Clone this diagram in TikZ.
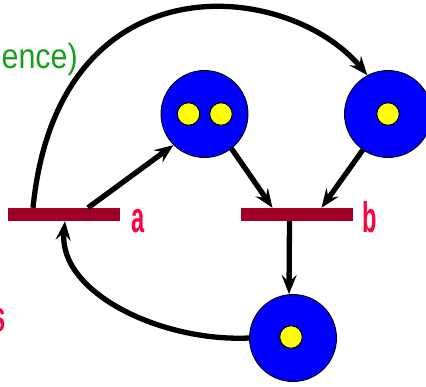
\documentclass[tikz,border=0pt]{standalone}
\usepackage{fontspec}
\setmainfont{Liberation Sans}
\newfontfamily\notefont[FakeStretch=0.87]{Liberation Sans}
\newfontfamily\labelfont[FakeStretch=0.55]{Liberation Sans Bold}
\usepackage{xcolor}
\usepackage{tikz}
\usetikzlibrary{arrows.meta, positioning}

\definecolor{placeblue}{HTML}{0000FF}
\definecolor{tokenyellow}{HTML}{FFFF00}
\definecolor{barred}{HTML}{A00028}
\definecolor{labelred}{HTML}{FF0040}
\definecolor{notegreen}{HTML}{18A018}

\begin{document}
\begin{tikzpicture}[
    x=1pt, y=-1pt,
    place/.style={
        circle,
        minimum size=87pt,
        inner sep=0pt,
        draw=black,
        line width=0.9pt,
        fill=placeblue
    },
    token/.style={
        circle,
        minimum size=22.5pt,
        inner sep=0pt,
        draw=black,
        line width=0.9pt,
        fill=tokenyellow
    },
    transition/.style={
        rectangle,
        minimum width=112pt,
        minimum height=13pt,
        inner sep=0pt,
        fill=barred
    },
    tlabel/.style={
        text=labelred,
        font=\labelfont\fontsize{43}{43}\selectfont,
        inner sep=0pt
    },
    arc/.style={
        line width=5.3pt,
        -{Stealth[length=19pt, width=15pt, inset=7pt]}
    }
]
\useasboundingbox (0,0) rectangle (426,386);
% TEXT CUT BY THE FRAME
\node (note) [anchor=base east, text=notegreen, inner sep=0pt,
    font=\notefont\fontsize{35}{35}\selectfont] at (78,68) {ence)};
\node (tail) [tlabel, anchor=base east] at (6,331) {s};
% TRANSITIONS
\node (a) [transition] at (64,214.5) {};
\node (b) [transition] at (296.5,214.5) {};
\node (alabel) [tlabel, anchor=base west] at (131,232) {a};
\node (blabel) [tlabel, anchor=base west] at (362,232) {b};
% PLACES
\node (p1) [place] at (204.5,114) {};
\node (p2) [place] at (388,114) {};
\node (p3) [place] at (293,338) {};
% TOKENS
\node (t1) [token] at (188.5,114) {};
\node (t2) [token] at (221,114) {};
\node (t3) [token] at (388,114) {};
\node (t4) [token] at (291,337) {};
% ARCS
\draw [arc] ([xshift=24pt]a.north) -- (p1.225);
\draw [arc] (p1.-52) -- ([xshift=-24pt]b.north);
\draw [arc] (p2.235) -- ([xshift=25pt]b.north);
\draw [arc] ([xshift=-7pt]b.south) -- ([xshift=-4pt]p3.north);
% LOOP BACK TO a
\draw [arc] (p3.west) .. controls (160,342) and (58,292) .. ([xshift=1pt]a.south);
% LONG ARC OVER THE TOP
\draw [arc] ([xshift=-31pt]a.north) .. controls (58,-43) and (287,-21) .. (p2.118);
\end{tikzpicture}
\end{document}
